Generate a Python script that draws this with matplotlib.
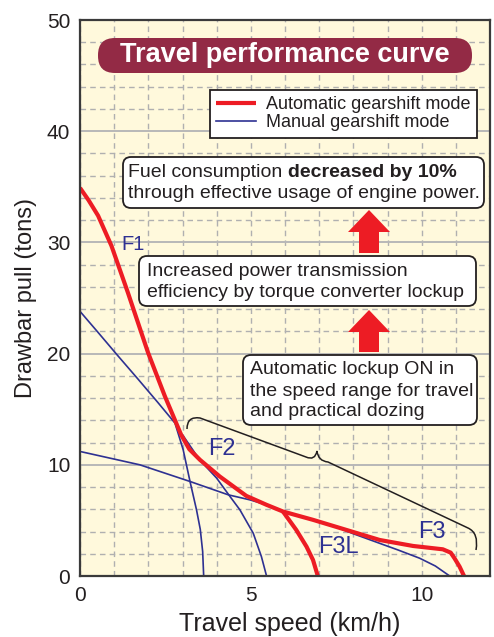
import matplotlib
matplotlib.use('Agg')
import matplotlib.pyplot as plt
from matplotlib.patches import FancyBboxPatch, Polygon, PathPatch
from matplotlib.path import Path
from matplotlib.transforms import IdentityTransform
from matplotlib.ticker import MultipleLocator

plt.rcParams['font.family'] = ['Liberation Sans', 'DejaVu Sans']

# automatic gearshift mode (red)
auto_speed = [0, 0.25, 0.53, 0.92, 1.40, 1.99, 2.48, 2.96, 3.2, 3.51, 4.09, 4.87, 5.46,
              5.94, 6.82, 7.80, 8.77, 9.75, 10.62, 10.85, 10.96, 11.11, 11.24]
auto_pull = [34.9, 33.8, 32.4, 29.7, 25.5, 20.1, 16.2, 12.7, 11.4, 10.45, 8.95, 7.2, 6.4,
             5.8, 5.05, 4.14, 3.24, 2.7, 2.4, 2.1, 1.6, 0.84, 0]
auto_f3l_speed = [5.94, 6.33, 6.63, 6.82, 6.96]
auto_f3l_pull = [5.8, 4.14, 2.64, 1.44, 0]

# manual gearshift mode (blue)
man_f1_speed = [0, 0.53, 1.11, 1.70, 2.28, 2.78, 3.02, 3.22, 3.41, 3.52, 3.59, 3.62]
man_f1_pull = [23.8, 21.9, 19.8, 17.7, 15.6, 13.75, 11.35, 8.5, 5.95, 4.2, 2.2, 0]
man_f2_speed = [3.0, 3.5, 4.0, 4.39, 4.68, 5.07, 5.31, 5.46]
man_f2_pull = [12.7, 10.45, 8.8, 7.15, 5.95, 3.85, 1.74, 0]
man_f3_speed = [0, 1.75, 3.22, 4.34, 4.97, 5.46, 5.94, 6.82, 7.5, 8.0, 8.77, 9.3,
                9.94, 10.4, 10.82]
man_f3_pull = [11.2, 10.0, 8.5, 7.3, 6.85, 6.4, 5.8, 5.05, 4.4, 3.8, 2.94, 2.35,
               1.6, 0.9, 0]

gear_labels = ['F1', 'F2', 'F3L', 'F3']
gear_x = [1.2, 3.75, 6.97, 9.89]
gear_y = [29.8, 11.45, 2.57, 3.92]
gear_size = [14.5, 17, 17, 17]

RED = '#ED1C24'
BLUE = '#2E3192'
INK = '#231F20'
W, H = 494, 637

fig = plt.figure(figsize=(W / 100, H / 100), dpi=100)
ax = fig.add_axes([80 / W, 61 / H, 410 / W, 556 / H])
ax.set_facecolor('#FFF9DC')
ax.set_xlim(0, 12)
ax.set_ylim(0, 50)

ax.xaxis.set_major_locator(MultipleLocator(5))
ax.xaxis.set_minor_locator(MultipleLocator(1))
ax.yaxis.set_major_locator(MultipleLocator(10))
ax.yaxis.set_minor_locator(MultipleLocator(2))
ax.tick_params(which='both', length=0, labelsize=15, colors=INK, pad=7)
ax.set_axisbelow(True)
ax.grid(axis='x', which='both', color='#b0b0b0', lw=1.0, ls=(0, (4, 3)))
ax.grid(axis='y', which='minor', color='#b0b0b0', lw=1.0, ls=(0, (4, 3)))
ax.grid(axis='y', which='major', color='#b8b8b8', lw=1.4, ls='-')
for s in ax.spines.values():
    s.set_color('#3a3a3a')
    s.set_linewidth(1.6)

ax.plot(man_f1_speed, man_f1_pull, color=BLUE, lw=1.2, label='_f1')
ax.plot(man_f2_speed, man_f2_pull, color=BLUE, lw=1.2, label='_f2')
ax.plot(man_f3_speed, man_f3_pull, color=BLUE, lw=1.2, label='_f3')
ax.plot(auto_speed, auto_pull, color=RED, lw=3.0, solid_capstyle='butt',
        label='Automatic gearshift mode')
ax.plot(auto_f3l_speed, auto_f3l_pull, color=RED, lw=3.0, solid_capstyle='butt')
ax.plot([], [], color=BLUE, lw=1.2, label='Manual gearshift mode')

for lab, gx, gy, fs in zip(gear_labels, gear_x, gear_y, gear_size):
    ax.text(gx, gy, lab, color=BLUE, fontsize=fs, ha='left', va='center')

leg = ax.legend(loc='upper right', bbox_to_anchor=(0.968, 0.874), borderaxespad=0,
                fontsize=13, fancybox=False, edgecolor='#231F20', framealpha=1,
                handlelength=2.2, handletextpad=0.55, labelspacing=0.05,
                borderpad=0.35)
leg.get_frame().set_linewidth(1.3)
for t in leg.get_texts():
    t.set_color(INK)

ax.set_xlabel('Travel speed (km/h)', fontsize=18, color=INK)
ax.set_ylabel('Drawbar pull (tons)', fontsize=17, color=INK)
ax.xaxis.set_label_coords(0.512, -0.064)
ax.yaxis.set_label_coords(-0.105, 0.5)

# annotations in picture pixels (y measured from the top)
ident = IdentityTransform()


def box(x0, y0, x1, y1, fc, ec, r):
    ax.add_patch(FancyBboxPatch((x0, H - y1), x1 - x0, y1 - y0,
                                boxstyle='round,pad=0,rounding_size=%g' % r,
                                fc=fc, ec=ec, lw=1.3, transform=ident,
                                clip_on=False, zorder=6))


def lines(x, baselines, texts):
    for yb, s in zip(baselines, texts):
        ax.text(x, H - yb, s, transform=ident, fontsize=14, color=INK,
                va='baseline', ha='left', zorder=7)


def up_arrow(cx, tip, base, bottom):
    pts = [(cx, tip), (cx + 21, base), (cx + 10, base), (cx + 10, bottom),
           (cx - 10, bottom), (cx - 10, base), (cx - 21, base)]
    ax.add_patch(Polygon([(x, H - y) for x, y in pts], closed=True, fc=RED,
                         ec='none', transform=ident, clip_on=False, zorder=6))


# title pill
box(98, 38, 472, 73, '#932A45', 'none', 17)
ax.text(285, H - 55.5, 'Travel performance curve', transform=ident, fontsize=19.5,
        fontweight='bold', color='white', ha='center', va='center', zorder=7)

# box 1
box(123, 157, 484, 208, 'white', INK, 8)
t1 = ax.text(128, H - 177, 'Fuel consumption ', transform=ident, fontsize=14,
             color=INK, va='baseline', ha='left', zorder=7)
ax.annotate('decreased by 10%', xy=(1, 0), xycoords=t1, fontsize=14,
            fontweight='bold', color=INK, va='bottom', ha='left', zorder=7)
lines(128, [198], ['through effective usage of engine power.'])

# box 2
box(139, 256, 476, 306, 'white', INK, 8)
lines(147, [276, 297], ['Increased power transmission',
                        'efficiency by torque converter lockup'])

# box 3
box(243, 355, 477, 425, 'white', INK, 8)
lines(250, [374.5, 395.5, 416.5], ['Automatic lockup ON in',
                                   'the speed range for travel',
                                   'and practical dozing'])

up_arrow(369, 210, 232, 253)
up_arrow(369, 310, 332, 352)

# brace over the speed range
verts = [(187, 429), (187, 416), (200, 418), (306, 457), (315, 461), (317, 451),
         (318, 461), (328, 462), (468, 528), (479, 533), (476, 550)]
codes = [Path.MOVETO, Path.CURVE3, Path.CURVE3, Path.LINETO, Path.CURVE3, Path.CURVE3,
         Path.CURVE3, Path.CURVE3, Path.LINETO, Path.CURVE3, Path.CURVE3]
brace = Path([(x, H - y) for x, y in verts], codes)
ax.add_patch(PathPatch(brace, fc='none', ec=INK, lw=1.1, transform=ident,
                       clip_on=False, zorder=6))

fig.savefig('out.png', dpi=100)
